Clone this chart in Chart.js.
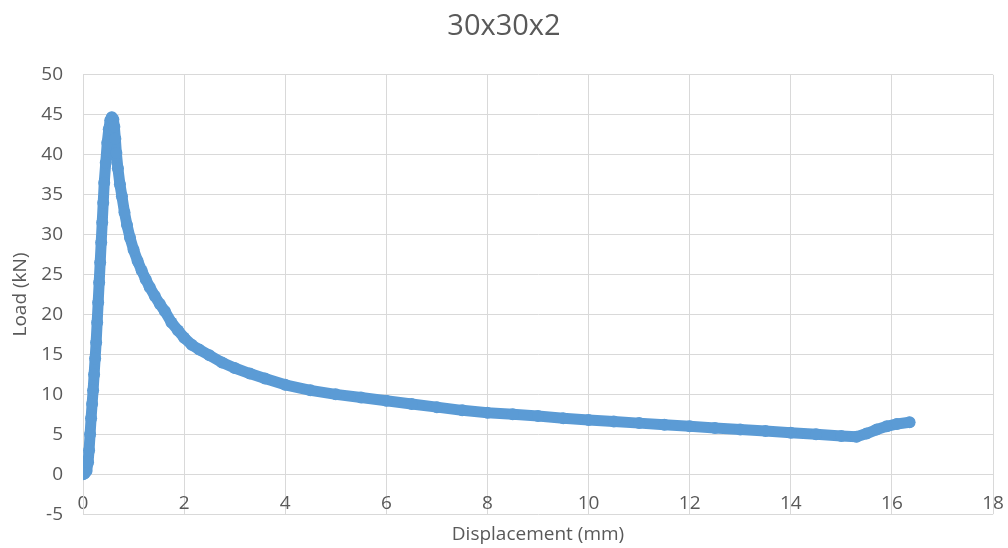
<!DOCTYPE html>
<html>
<head>
<meta charset="utf-8">
<title>30x30x2</title>
<script src="https://cdn.jsdelivr.net/npm/chart.js@4.4.1/dist/chart.umd.min.js"></script>
<style>
    html, body { margin: 0; padding: 0; background: #ffffff; }
    #loadChart { display: block; }
</style>
</head>
<body>
<canvas id="loadChart" width="1008" height="548"></canvas>
<script>
// Données (déplacement en mm, charge en kN)
const displacement = [
    0.00, 0.03, 0.07, 0.10, 0.12, 0.14, 0.16, 0.18, 0.20, 0.22,
    0.24, 0.26, 0.28, 0.30, 0.32, 0.34, 0.36, 0.38, 0.40, 0.42,
    0.45, 0.48, 0.51, 0.54, 0.57, 0.60, 0.62, 0.64, 0.66, 0.69,
    0.73, 0.77, 0.82, 0.87, 0.93, 1.00, 1.08, 1.16, 1.24, 1.32,
    1.42, 1.52, 1.62, 1.75, 1.88, 2.00, 2.15, 2.30, 2.50, 2.75,
    3.00, 3.30, 3.60, 4.00, 4.50, 5.00, 5.50, 6.00, 6.50, 7.00,
    7.50, 8.00, 8.50, 9.00, 9.50, 10.00, 10.50, 11.00, 11.50, 12.00,
    12.50, 13.00, 13.50, 14.00, 14.50, 15.00, 15.30, 15.50, 15.70, 15.90,
    16.10, 16.35
];
const load = [
    0.0, 0.1, 0.4, 1.5, 3.0, 5.0, 7.0, 8.8, 10.5, 12.5,
    14.5, 16.5, 19.0, 21.5, 24.0, 26.5, 29.0, 31.5, 34.0, 36.5,
    39.0, 41.5, 43.2, 44.3, 44.7, 44.4, 43.5, 42.0, 40.2, 38.3,
    36.3, 34.8, 32.8, 31.2, 29.6, 28.1, 26.7, 25.5, 24.4, 23.4,
    22.3, 21.3, 20.4, 19.0, 18.0, 17.1, 16.2, 15.6, 14.9, 14.0,
    13.3, 12.6, 12.0, 11.2, 10.5, 10.0, 9.6, 9.2, 8.8, 8.4,
    8.0, 7.7, 7.5, 7.3, 7.0, 6.8, 6.6, 6.4, 6.2, 6.0,
    5.8, 5.6, 5.4, 5.2, 5.0, 4.8, 4.7, 5.1, 5.6, 6.0,
    6.3, 6.5
];

// Axes
const xTicks = [0, 2, 4, 6, 8, 10, 12, 14, 16, 18];
const yTicks = [-5, 0, 5, 10, 15, 20, 25, 30, 35, 40, 45, 50];

const TEXT_COLOR = '#595959';
const GRID_COLOR = '#d9d9d9';
const SERIES_COLOR = '#5b9bd5';

Chart.defaults.font.family = '"Open Sans", sans-serif';
Chart.defaults.color = TEXT_COLOR;

const points = displacement.map((x, i) => ({ x: x, y: load[i] }));

// L'axe X est posé sur y = 0 : il ne réserve aucune hauteur,
// seulement une marge à droite pour le dernier libellé
function fitXAxis(scale) {
    scale.height = 0;
    scale.paddingLeft = 0;
    scale.paddingRight = 15;
}

new Chart(document.getElementById('loadChart').getContext('2d'), {
    type: 'scatter',
    data: {
        datasets: [{
            label: '30x30x2',
            data: points,
            showLine: true,
            borderColor: SERIES_COLOR,
            borderWidth: 11,
            borderCapStyle: 'round',
            borderJoinStyle: 'round',
            backgroundColor: SERIES_COLOR,
            pointRadius: 6,
            pointBorderWidth: 0,
            tension: 0
        }]
    },
    options: {
        responsive: false,
        animation: false,
        layout: { padding: 0 },
        plugins: {
            legend: { display: false },
            tooltip: { enabled: false },
            title: {
                display: true,
                text: '30x30x2',
                color: TEXT_COLOR,
                font: { size: 29, weight: 'normal' },
                padding: { top: 9, bottom: 31 }
            }
        },
        scales: {
            x: {
                type: 'linear',
                position: { y: 0 },
                min: xTicks[0],
                max: xTicks[xTicks.length - 1],
                afterBuildTicks: (scale) => { scale.ticks = xTicks.map(v => ({ value: v })); },
                afterFit: fitXAxis,
                grid: { color: GRID_COLOR, lineWidth: 1, drawTicks: false },
                border: { color: GRID_COLOR },
                ticks: { font: { size: 19 }, padding: 18, maxRotation: 0 }
            },
            x2: {
                type: 'linear',
                position: 'bottom',
                min: xTicks[0],
                max: xTicks[xTicks.length - 1],
                grid: { display: false, drawTicks: false },
                border: { display: false },
                ticks: { display: false },
                title: {
                    display: true,
                    text: 'Displacement (mm)',
                    font: { size: 19 },
                    padding: { top: 9, bottom: 2 }
                }
            },
            y: {
                type: 'linear',
                position: 'left',
                min: yTicks[0],
                max: yTicks[yTicks.length - 1],
                afterBuildTicks: (scale) => { scale.ticks = yTicks.map(v => ({ value: v })); },
                afterFit: (scale) => { scale.width = 83; },
                grid: { color: GRID_COLOR, lineWidth: 1, drawTicks: false },
                border: { color: GRID_COLOR },
                ticks: { font: { size: 19 }, padding: 20 },
                title: {
                    display: true,
                    text: 'Load (kN)',
                    font: { size: 19 },
                    padding: { top: 9, bottom: 0 }
                }
            }
        }
    }
});
</script>
</body>
</html>
